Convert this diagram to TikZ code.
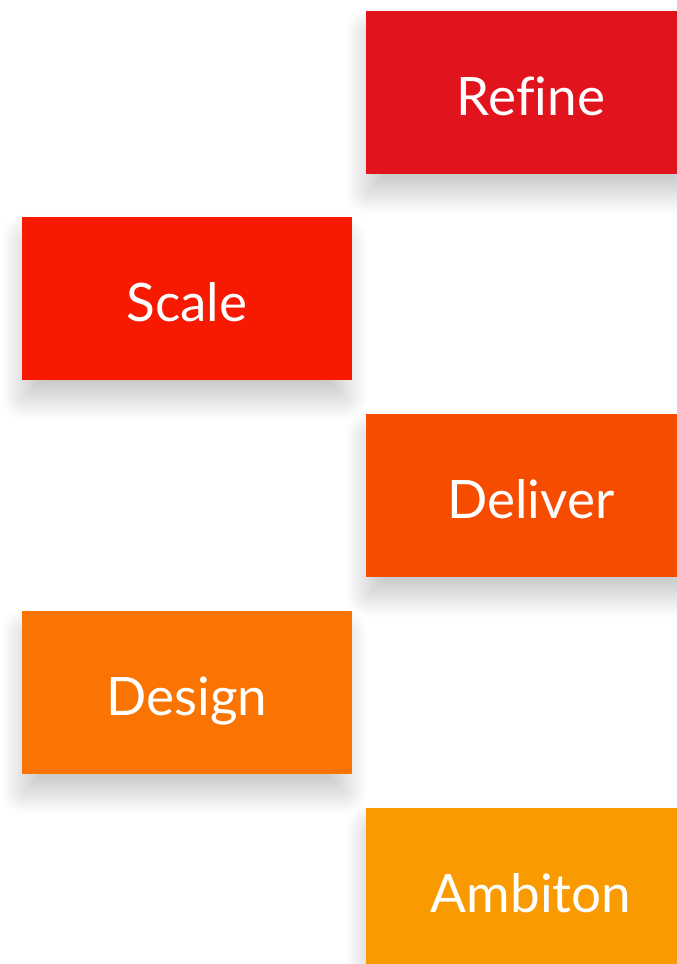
\documentclass[tikz,border=0pt]{standalone}
\usepackage{fontspec}
\setmainfont[Ligatures=NoCommon]{Lato}
\usetikzlibrary{shadows.blur}
\definecolor{cRefine}{HTML}{E1141E}
\definecolor{cScale}{HTML}{F71900}
\definecolor{cDeliver}{HTML}{F64C00}
\definecolor{cDesign}{HTML}{F97402}
\definecolor{cAmbiton}{HTML}{F89A00}
\tikzset{
  stagebox/.style={rectangle, inner sep=0pt, minimum width=330pt, minimum height=163pt,
    text=white, font=\fontsize{53}{60}\selectfont, text depth=0pt, text height=45pt,
    blur shadow={shadow xshift=-3pt, shadow yshift=-20pt, shadow scale=0.96,
      shadow blur radius=26pt, shadow blur steps=30, shadow opacity=26}}
}
\begin{document}
\begin{tikzpicture}[x=1pt,y=-1pt]
\useasboundingbox (0,0) rectangle (677,964);
\begin{scope}
\clip (0,0) rectangle (677,964);
\node[stagebox, fill=cAmbiton] (ambiton) at (531,889.5) {Ambiton};
\node[stagebox, fill=cDesign] (design) at (187,692.5) {Design};
\node[stagebox, fill=cDeliver] (deliver) at (531,495.5) {Deliver};
\node[stagebox, fill=cScale] (scale) at (187,298.5) {Scale};
\node[stagebox, fill=cRefine] (refine) at (531,92.5) {Refine};
\end{scope}
\end{tikzpicture}
\end{document}
